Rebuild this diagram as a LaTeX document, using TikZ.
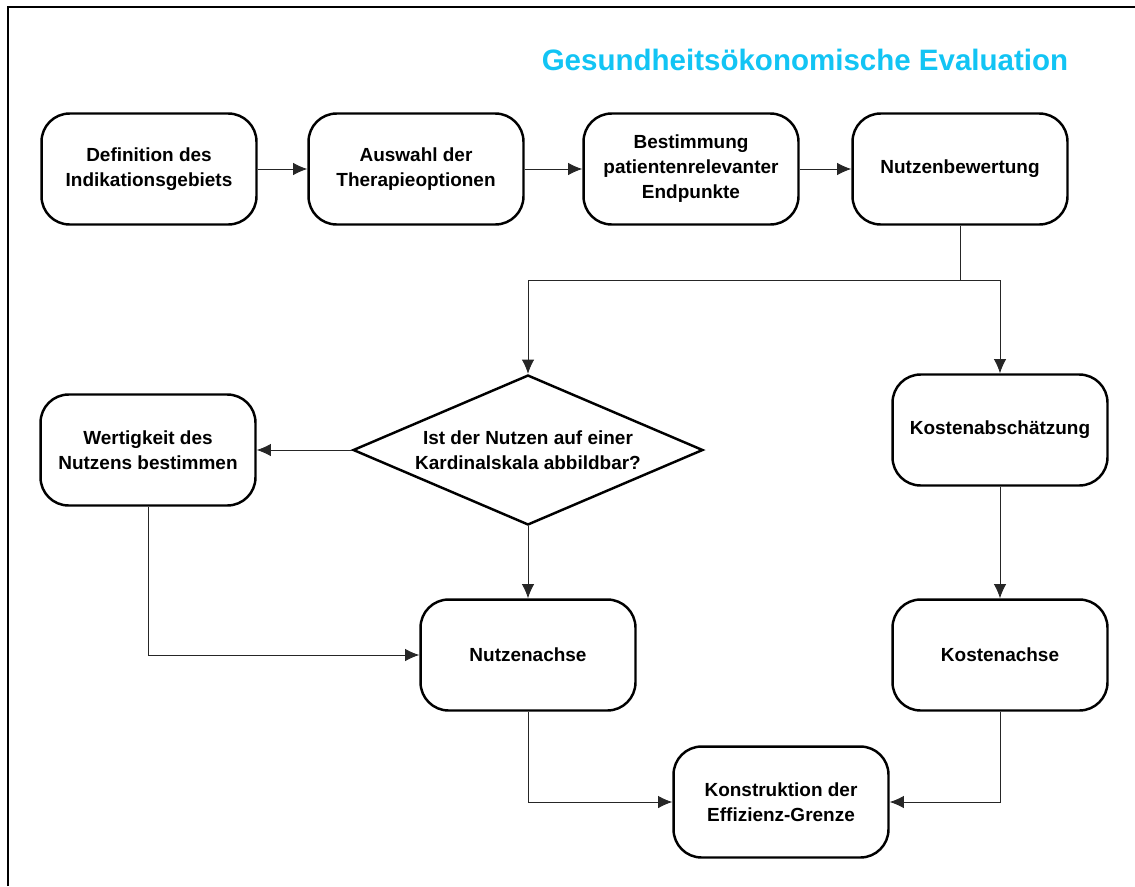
\documentclass[tikz,border=0pt]{standalone}
\usepackage{fontspec}
\setmainfont{Liberation Sans}
\usetikzlibrary{shapes.geometric,arrows.meta}

\definecolor{titelblau}{RGB}{18,196,244}

\tikzset{
    etape/.style={draw, line width=1.4pt, rounded corners=16pt, align=center,
        minimum width=4.3cm, minimum height=2.22cm,
        font=\bfseries\fontsize{10.8}{14.2}\selectfont},
    frage/.style={draw, diamond, line width=1.4pt, shape aspect=2.33, inner sep=0pt,
        minimum width=7cm, minimum height=3cm, align=center,
        font=\bfseries\fontsize{10.8}{14.2}\selectfont},
    pfeil/.style={draw=black!85, line width=0.5pt}
}

\begin{document}
\begin{tikzpicture}[x=0.02cm, y=-0.02cm, >={Latex[length=8pt,width=7pt]}]
        \useasboundingbox (0,0) rectangle (1135,886);
        \draw[line width=1.6pt] (8,886) -- (8,7) -- (1135,7); % Rahmen

        \node[anchor=base, text=titelblau, font=\bfseries\fontsize{16.8}{20}\selectfont] (titel) at (805,70) {Gesundheitsökonomische Evaluation};

        % obere Reihe
        \node[etape] (def) at (149,169) {Definition des\\Indikationsgebiets};
        \node[etape] (ausw) at (416,169) {Auswahl der\\Therapieoptionen};
        \node[etape] (best) at (691,169) {Bestimmung\\patientenrelevanter\\Endpunkte};
        \node[etape] (nutzb) at (960,169) {Nutzenbewertung};

        % Mitte
        \node[frage] (frage) at (528,450) {Ist der Nutzen auf einer\\Kardinalskala abbildbar?};
        \node[etape] (wert) at (148,450) {Wertigkeit des\\Nutzens bestimmen};
        \node[etape] (kostab) at (1000,430) {Kostenabschätzung};

        % unten
        \node[etape] (nachse) at (528,655) {Nutzenachse};
        \node[etape] (kachse) at (1000,655) {Kostenachse};
        \node[etape] (effiz) at (781,802) {Konstruktion der\\Effizienz-Grenze};

        \coordinate (gabel) at (960,280);

        \draw[pfeil, ->] (def) -- (ausw);
        \draw[pfeil, ->] (ausw) -- (best);
        \draw[pfeil, ->] (best) -- (nutzb);
        \draw[pfeil] (nutzb) -- (gabel); % Verzweigung
        \draw[pfeil, ->] (gabel) -| (frage);
        \draw[pfeil, ->] (gabel) -| (kostab);
        \draw[pfeil, ->] (frage) -- (wert);
        \draw[pfeil, ->] (frage) -- (nachse);
        \draw[pfeil, ->] (wert) |- (nachse);
        \draw[pfeil, ->] (kostab) -- (kachse);
        \draw[pfeil, ->] (nachse) |- (effiz);
        \draw[pfeil, ->] (kachse) |- (effiz);
    \end{tikzpicture}
\end{document}
